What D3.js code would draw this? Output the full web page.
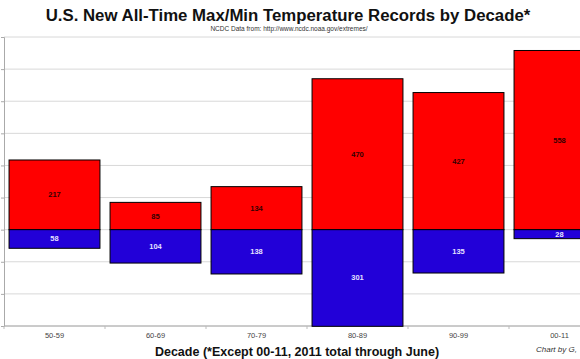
<!DOCTYPE html>
<html><head><meta charset="utf-8">
<script src="https://cdn.jsdelivr.net/npm/d3@7/dist/d3.min.js"></script>
<style>body{margin:0;background:#fff;} svg{display:block;}</style>
</head><body>
<svg id="c" width="580" height="359"></svg>
<script>
const decades = ["50-59","60-69","70-79","80-89","90-99","00-11"];
const maxRecords = [217, 85, 134, 470, 427, 558];
const minRecords = [58, 104, 138, 301, 135, 28];
const yTicks = [-300,-200,-100,0,100,200,300,400,500,600];

const svg = d3.select("#c");
const font = "'Liberation Sans', Arial, sans-serif";
const x = d3.scaleBand().domain(decades).range([4, 610]).paddingInner(0.1).paddingOuter(0.05);
const y = d3.scaleLinear().domain([-300, 600]).range([326, 37]);

// gridlines
svg.append("g").selectAll("line").data(yTicks).join("line")
  .attr("x1", 4).attr("x2", 610)
  .attr("y1", d => y(d)).attr("y2", d => y(d))
  .attr("stroke", "#d8d8d8").attr("stroke-width", 1);

// y axis (labels cropped)
const ya = svg.append("g").attr("transform", "translate(4,0)")
  .call(d3.axisLeft(y).tickValues(yTicks).tickSize(3).tickFormat(""));
ya.select(".domain").attr("stroke", "#aaa");
ya.selectAll(".tick line").attr("stroke", "#aaa");

// x axis
const boundaries = d3.range(0, decades.length + 1).map(i => 4 + i * x.step());
svg.append("line").attr("x1", 4).attr("x2", 610).attr("y1", y(-300)).attr("y2", y(-300)).attr("stroke", "#aaa");
svg.append("g").selectAll("line").data(boundaries).join("line")
  .attr("x1", d => d).attr("x2", d => d).attr("y1", y(-300)).attr("y2", y(-300) + 3).attr("stroke", "#bbb");
svg.append("g").selectAll("text").data(decades).join("text")
  .attr("x", d => x(d) + x.bandwidth() / 2).attr("y", 338)
  .attr("text-anchor", "middle").attr("font-family", font).attr("font-size", 7.5).attr("fill", "#444")
  .text(d => d);

// bars
const data = decades.map((d, i) => ({d, max: maxRecords[i], min: minRecords[i]}));
svg.append("g").selectAll("rect").data(data).join("rect")
  .attr("x", d => x(d.d)).attr("width", x.bandwidth())
  .attr("y", d => y(d.max)).attr("height", d => y(0) - y(d.max))
  .attr("fill", "#ff0000").attr("stroke", "#000").attr("stroke-width", 1);
svg.append("g").selectAll("rect").data(data).join("rect")
  .attr("x", d => x(d.d)).attr("width", x.bandwidth())
  .attr("y", y(0)).attr("height", d => y(-d.min) - y(0))
  .attr("fill", "#2200d8").attr("stroke", "#000").attr("stroke-width", 1);

// labels
svg.append("g").selectAll("text").data(data).join("text")
  .attr("x", d => x(d.d) + x.bandwidth() / 2).attr("y", d => (y(d.max) + y(0)) / 2 + 2.5)
  .attr("text-anchor", "middle").attr("font-family", font).attr("font-size", 7.5).attr("font-weight", "bold")
  .attr("fill", "#300").text(d => d.max);
svg.append("g").selectAll("text").data(data).join("text")
  .attr("x", d => x(d.d) + x.bandwidth() / 2).attr("y", d => (y(-d.min) + y(0)) / 2 + 2.5)
  .attr("text-anchor", "middle").attr("font-family", font).attr("font-size", 7.5).attr("font-weight", "bold")
  .attr("fill", "#e4e0ff").text(d => d.min);

// titles
svg.append("text").attr("x", 288).attr("y", 21).attr("text-anchor", "middle")
  .attr("font-family", font).attr("font-size", 16.8).attr("font-weight", "bold").attr("fill", "#111")
  .text("U.S. New All-Time Max/Min Temperature Records by Decade*");
svg.append("text").attr("x", 289).attr("y", 31).attr("text-anchor", "middle")
  .attr("font-family", font).attr("font-size", 6.5).attr("fill", "#333")
  .text("NCDC Data from: http://www.ncdc.noaa.gov/extremes/");
svg.append("text").attr("x", 297).attr("y", 356).attr("text-anchor", "middle")
  .attr("font-family", font).attr("font-size", 12.5).attr("font-weight", "bold").attr("fill", "#111")
  .text("Decade (*Except 00-11, 2011 total through June)");
svg.append("text").attr("x", 536).attr("y", 352)
  .attr("font-family", font).attr("font-size", 8).attr("font-style", "italic").attr("fill", "#333")
  .text("Chart by G,");
</script>
</body></html>
